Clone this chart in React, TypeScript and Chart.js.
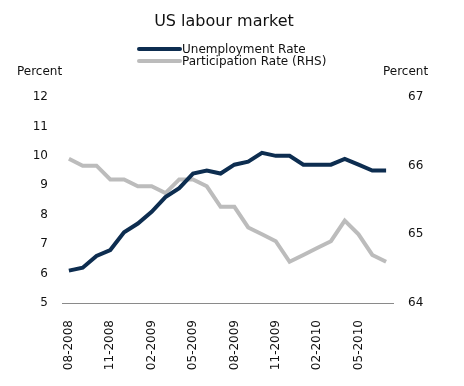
import React, { useEffect, useRef } from "react";
import { Chart, registerables } from "chart.js";

Chart.register(...registerables);

const monthLabels = [
  "08-2008", "09-2008", "10-2008", "11-2008", "12-2008", "01-2009",
  "02-2009", "03-2009", "04-2009", "05-2009", "06-2009", "07-2009",
  "08-2009", "09-2009", "10-2009", "11-2009", "12-2009", "01-2010",
  "02-2010", "03-2010", "04-2010", "05-2010", "06-2010", "07-2010",
];

const unemploymentRate = [
  6.1, 6.2, 6.6, 6.8, 7.4, 7.7, 8.1, 8.6, 8.9, 9.4, 9.5, 9.4,
  9.7, 9.8, 10.1, 10.0, 10.0, 9.7, 9.7, 9.7, 9.9, 9.7, 9.5, 9.5,
];

const participationRate = [
  66.1, 66.0, 66.0, 65.8, 65.8, 65.7, 65.7, 65.6, 65.8, 65.8, 65.7, 65.4,
  65.4, 65.1, 65.0, 64.9, 64.6, 64.7, 64.8, 64.9, 65.2, 65.0, 64.7, 64.6,
];

const titleText = "US labour market";
const seriesNames = ["Unemployment Rate", "Participation Rate (RHS)"];
const axisUnit = "Percent";
const leftRange = [5, 12];
const rightRange = [64, 67];

const NAVY = "#0d2d50";
const GREY = "#bcbcbc";
const FONT = "'DejaVu Sans', Verdana, sans-serif";
const TEXT = "#111111";

const decorPlugin = {
  id: "decor",
  afterDraw(chart: any) {
    const ctx = chart.ctx;
    ctx.save();
    ctx.fillStyle = TEXT;
    ctx.textBaseline = "middle";
    // title
    ctx.font = `16px ${FONT}`;
    ctx.textAlign = "center";
    ctx.fillText(titleText, 216, 14);
    // legend
    ctx.font = `12px ${FONT}`;
    ctx.textAlign = "left";
    const rows = [41, 53];
    const colors = [NAVY, GREY];
    rows.forEach((y, i) => {
      ctx.strokeStyle = colors[i];
      ctx.lineWidth = 4;
      ctx.lineCap = "round";
      ctx.beginPath();
      ctx.moveTo(131, y);
      ctx.lineTo(172, y);
      ctx.stroke();
      ctx.fillText(seriesNames[i], 174, y + 0.5);
    });
    // axis units
    ctx.fillText(axisUnit, 9, 64);
    ctx.fillText(axisUnit, 375, 64);
    ctx.restore();
  },
};

export default function App() {
  const ref = useRef<HTMLCanvasElement>(null);

  useEffect(() => {
    if (!ref.current) return;
    Chart.defaults.font.family = FONT;
    const chart = new Chart(ref.current, {
      type: "line",
      data: {
        labels: monthLabels,
        datasets: [
          {
            label: seriesNames[0],
            data: unemploymentRate,
            borderColor: NAVY,
            backgroundColor: NAVY,
            borderWidth: 4,
            pointRadius: 0,
            tension: 0,
            yAxisID: "y",
          },
          {
            label: seriesNames[1],
            data: participationRate,
            borderColor: GREY,
            backgroundColor: GREY,
            borderWidth: 4,
            pointRadius: 0,
            tension: 0,
            yAxisID: "y1",
          },
        ],
      },
      options: {
        responsive: false,
        animation: false,
        layout: { padding: { top: 89, left: 0, right: 0, bottom: 0 } },
        plugins: {
          legend: { display: false },
          title: { display: false },
          tooltip: { enabled: false },
        },
        scales: {
          x: {
            type: "category",
            offset: true,
            grid: { display: false, drawTicks: false },
            border: { display: true, color: "#8a8a8a", width: 1 },
            ticks: {
              autoSkip: false,
              minRotation: 90,
              maxRotation: 90,
              padding: 17,
              color: TEXT,
              font: { size: 12, family: FONT },
              callback: (_v: any, i: number) => (i % 3 === 0 ? monthLabels[i] : null),
            },
            afterFit: (s: any) => {
              s.height = 67;
            },
          },
          y: {
            position: "left",
            min: leftRange[0],
            max: leftRange[1],
            grid: { display: false, drawTicks: false },
            border: { display: false },
            ticks: {
              stepSize: 1,
              padding: 14,
              color: TEXT,
              font: { size: 12, family: FONT },
            },
            afterFit: (s: any) => {
              s.width = 54;
            },
          },
          y1: {
            position: "right",
            min: rightRange[0],
            max: rightRange[1],
            grid: { display: false, drawTicks: false },
            border: { display: false },
            ticks: {
              stepSize: 1,
              padding: 15,
              color: TEXT,
              font: { size: 12, family: FONT },
            },
            afterFit: (s: any) => {
              s.width = 63;
            },
          },
        },
      },
      plugins: [decorPlugin],
    });
    return () => chart.destroy();
  }, []);

  return (
    <div style={{ width: 448, height: 362 }}>
      <canvas ref={ref} width={448} height={362} style={{ display: "block" }} />
    </div>
  );
}
